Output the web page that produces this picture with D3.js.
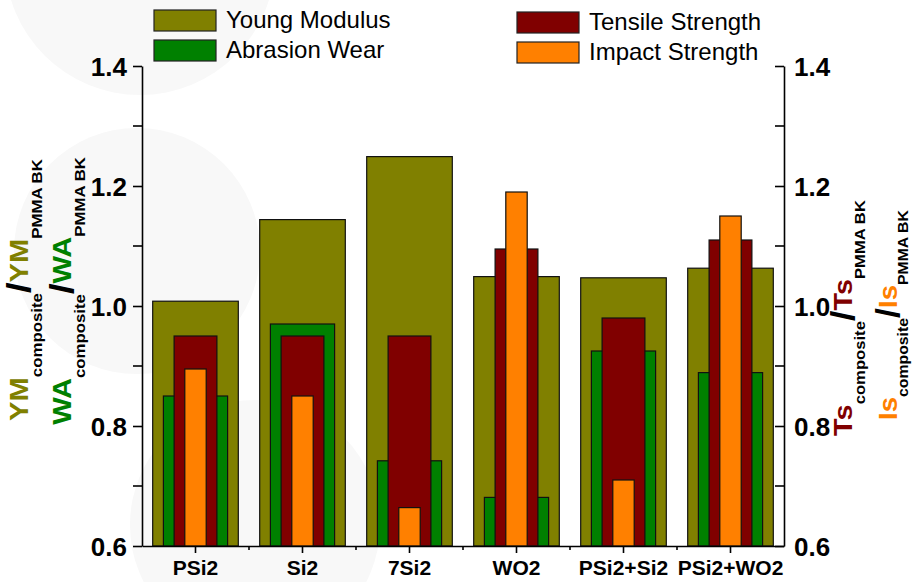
<!DOCTYPE html>
<html>
<head>
<meta charset="utf-8">
<script src="https://cdn.jsdelivr.net/npm/d3@7"></script>
<style>
  html, body { margin: 0; padding: 0; background: #fff; }
  svg { display: block; font-family: "Liberation Sans", Arial, sans-serif; }
</style>
</head>
<body>
<svg id="chart" width="913" height="582"></svg>
<script>
// Normalised properties (composite / PMMA blank) for each filler formulation
const categories = ["PSi2", "Si2", "7Si2", "WO2", "PSi2+Si2", "PSi2+WO2"];
const youngModulus    = [1.008, 1.144, 1.249, 1.049, 1.047, 1.063];
const abrasionWear    = [0.850, 0.970, 0.742, 0.681, 0.925, 0.889];
const tensileStrength = [0.950, 0.950, 0.950, 1.095, 0.980, 1.110];
const impactStrength  = [0.895, 0.850, 0.664, 1.190, 0.710, 1.150];
const yTicks = [0.6, 0.8, 1.0, 1.2, 1.4];
const yMinorTicks = [0.7, 0.9, 1.1, 1.3];
const seriesNames = ["Young Modulus", "Abrasion Wear", "Tensile Strength", "Impact Strength"];

const colors = {
  ym: "#808000",
  wa: "#008000",
  ts: "#800000",
  is: "#ff8000"
};

const svg = d3.select("#chart");
const m = { left: 142, right: 784, top: 66, bottom: 546 };

// faint backdrop discs
const discs = [
  { cx: 140, cy: -40, r: 135 },
  { cx: 137, cy: 251, r: 123 },
  { cx: 255, cy: 525, r: 125 }
];
svg.append("g").selectAll("circle").data(discs).join("circle")
  .attr("cx", d => d.cx).attr("cy", d => d.cy).attr("r", d => d.r)
  .attr("fill", "#f8f8f8");

const x = d3.scaleBand().domain(categories).range([m.left, m.right]).padding(0);
const y = d3.scaleLinear().domain([0.6, 1.4]).range([m.bottom, m.top]);

// bars, drawn back to front, widths as fractions of the category band
const layers = [
  { key: "ym", values: youngModulus,    frac: 0.80 },
  { key: "wa", values: abrasionWear,    frac: 0.60 },
  { key: "ts", values: tensileStrength, frac: 0.40 },
  { key: "is", values: impactStrength,  frac: 0.20 }
];
const bw = x.bandwidth();
layers.forEach(L => {
  svg.append("g").attr("class", "bars-" + L.key)
    .selectAll("rect").data(categories).join("rect")
    .attr("x", c => x(c) + bw * (1 - L.frac) / 2)
    .attr("width", bw * L.frac)
    .attr("y", (c, i) => y(L.values[i]))
    .attr("height", (c, i) => y(0.6) - y(L.values[i]))
    .attr("fill", colors[L.key])
    .attr("stroke", "#111")
    .attr("stroke-width", 1.2);
});

// left axis
const leftAxis = svg.append("g").attr("transform", `translate(${m.left},0)`)
  .call(d3.axisLeft(y).tickValues(yTicks).tickFormat(d3.format(".1f"))
        .tickSize(9).tickPadding(6).tickSizeOuter(0));
leftAxis.append("g").selectAll("line").data(yMinorTicks).join("line")
  .attr("x1", -9).attr("x2", 0).attr("y1", d => y(d)).attr("y2", d => y(d));

// right axis, ticks pointing into the plot
const rightAxis = svg.append("g").attr("transform", `translate(${m.right},0)`)
  .call(d3.axisRight(y).tickValues(yTicks).tickFormat(d3.format(".1f"))
        .tickSize(-9).tickPadding(10).tickSizeOuter(0));
rightAxis.append("g").selectAll("line").data(yMinorTicks).join("line")
  .attr("x1", -9).attr("x2", 0).attr("y1", d => y(d)).attr("y2", d => y(d));

[leftAxis, rightAxis].forEach(g => {
  g.selectAll("text").attr("font-size", 26).attr("font-weight", "bold")
    .attr("fill", "#000").attr("font-family", "Liberation Sans, Arial, sans-serif")
    .attr("dy", "0.36em");
  g.selectAll("path,line").attr("stroke", "#000").attr("stroke-width", 1.6);
});

// bottom axis: major ticks at category centres, minor ticks at band edges
const bottomAxis = svg.append("g").attr("transform", `translate(0,${m.bottom})`)
  .call(d3.axisBottom(x).tickSize(7).tickPadding(0).tickSizeOuter(0));
bottomAxis.selectAll("path,line").attr("stroke", "#000").attr("stroke-width", 1.6);
bottomAxis.selectAll("text")
  .attr("y", 29).attr("dy", 0)
  .attr("font-size", 21).attr("font-weight", "bold").attr("fill", "#000")
  .attr("font-family", "Liberation Sans, Arial, sans-serif");
const edges = categories.slice(1).map(c => x(c));
bottomAxis.append("g").selectAll("line").data(edges).join("line")
  .attr("x1", d => d).attr("x2", d => d).attr("y1", 0).attr("y2", 4)
  .attr("stroke", "#000").attr("stroke-width", 1.6);

// legend
const legendItems = [
  { name: seriesNames[0], key: "ym", x: 154, y: 10 },
  { name: seriesNames[1], key: "wa", x: 154, y: 40 },
  { name: seriesNames[2], key: "ts", x: 517, y: 12 },
  { name: seriesNames[3], key: "is", x: 517, y: 42 }
];
const lg = svg.append("g").selectAll("g").data(legendItems).join("g")
  .attr("transform", d => `translate(${d.x},${d.y})`);
lg.append("rect").attr("width", 62).attr("height", 21)
  .attr("fill", d => colors[d.key]).attr("stroke", "#222").attr("stroke-width", 1.2);
lg.append("text").attr("x", 72).attr("y", 18).text(d => d.name)
  .attr("font-size", 24).attr("fill", "#000");

// rotated ratio titles with subscripts, stretched along the text to the given length
function ratioTitle(cx, cy, sym, color, length, sub) {
  const t = svg.append("text")
    .attr("text-anchor", "middle")
    .attr("font-weight", "bold");
  t.append("tspan").text(sym).attr("fill", color).attr("font-size", 26);
  t.append("tspan").text("composite").attr("fill", "#000").attr("font-size", 15).attr("dy", sub);
  t.append("tspan").text("/").attr("fill", "#000").attr("font-size", 34).attr("dy", -sub + 2);
  t.append("tspan").text(sym).attr("fill", color).attr("font-size", 26).attr("dy", -2);
  t.append("tspan").text("PMMA BK").attr("fill", "#000").attr("font-size", 15).attr("dy", sub);
  const len = t.node().getComputedTextLength();
  t.attr("transform", `translate(${cx},${cy}) rotate(-90) scale(${length / len},1)`);
}
ratioTitle(28, 290, "YM", colors.ym, 262, 14);
ratioTitle(71, 291, "WA", colors.wa, 268, 14);
ratioTitle(852, 318, "Ts", colors.ts, 236, 13);
ratioTitle(897, 315, "Is", colors.is, 210, 11);
</script>
</body>
</html>
